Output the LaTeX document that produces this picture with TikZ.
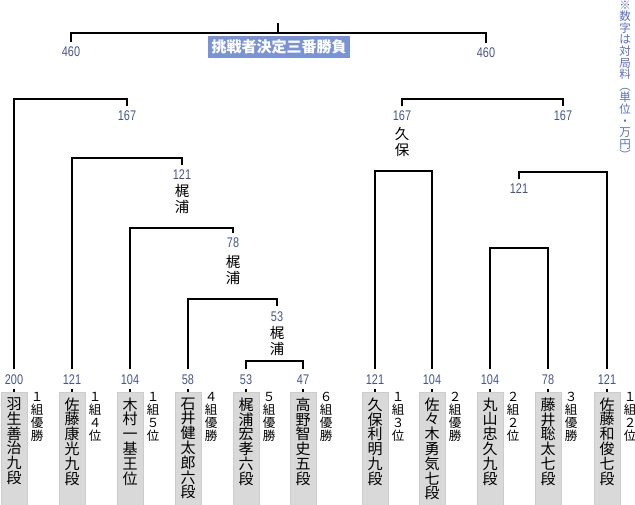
\documentclass[tikz,border=0pt]{standalone}
\usepackage{fontspec}
\setmainfont{Noto Sans CJK JP}
\newfontfamily\numfont{Liberation Sans}[FakeStretch=0.78]
\usetikzlibrary{positioning}
\definecolor{feeblue}{RGB}{70,86,140}
\definecolor{titleblue}{RGB}{122,146,214}
\definecolor{noteblue}{RGB}{88,108,196}

\begin{document}
\begin{tikzpicture}[x=1pt,y=-1pt,line width=1.2pt,
  fee/.style={font=\numfont\fontsize{14}{14}\selectfont, text=feeblue,
              text height=10pt, text depth=0pt, inner xsep=1pt, inner ysep=4pt},
  namebox/.style={draw=black!20, line width=0.6pt, fill=black!15, minimum width=26pt,
                  minimum height=125pt, anchor=north, inner sep=0pt},
  playername/.style={font=\fontsize{15}{14.8}\selectfont, align=center, anchor=north, inner sep=0pt},
  rank/.style={font=\fontsize{12.5}{13}\selectfont, align=center, anchor=north, inner sep=0pt},
  winner/.style={font=\fontsize{14.5}{16.5}\selectfont, align=center, inner sep=0pt}]
\clip (0,0) rectangle (635,505);

% note and title
\node (note) [anchor=north, text=noteblue, font=\fontsize{11.5}{11.6}\selectfont,
  align=center, inner sep=0pt] at (625,0)
  {※\\数\\字\\は\\対\\局\\料\\︵\\単\\位\\・\\万\\円\\︶};
\node (title) [fill=titleblue, text=white, font=\bfseries\fontsize{15}{15}\selectfont,
  minimum width=142pt, minimum height=22pt, inner xsep=3pt] at (279,47) {挑戦者決定三番勝負};

% players
\node (b1) [namebox] at (14,392) {};
\node (b2) [namebox] at (72,392) {};
\node (b3) [namebox] at (130,392) {};
\node (b4) [namebox] at (188,392) {};
\node (b5) [namebox] at (246,392) {};
\node (b6) [namebox] at (303,392) {};
\node (b7) [namebox] at (375,392) {};
\node (b8) [namebox] at (432,392) {};
\node (b9) [namebox] at (490,392) {};
\node (b10) [namebox] at (548,392) {};
\node (b11) [namebox] at (607,392) {};

\node (s1) [playername] at (14,397) {羽\\生\\善\\治\\九\\段};
\node (s2) [playername] at (72,397) {佐\\藤\\康\\光\\九\\段};
\node (s3) [playername] at (130,397) {木\\村\\一\\基\\王\\位};
\node (s4) [playername] at (188,397) {石\\井\\健\\太\\郎\\六\\段};
\node (s5) [playername] at (246,397) {梶\\浦\\宏\\孝\\六\\段};
\node (s6) [playername] at (303,397) {高\\野\\智\\史\\五\\段};
\node (s7) [playername] at (375,397) {久\\保\\利\\明\\九\\段};
\node (s8) [playername] at (432,397) {佐\\々\\木\\勇\\気\\七\\段};
\node (s9) [playername] at (490,397) {丸\\山\\忠\\久\\九\\段};
\node (s10) [playername] at (548,397) {藤\\井\\聡\\太\\七\\段};
\node (s11) [playername] at (607,397) {佐\\藤\\和\\俊\\七\\段};

\node (r1) [rank] at (37,392) {１\\組\\優\\勝};
\node (r2) [rank] at (95,392) {１\\組\\４\\位};
\node (r3) [rank] at (153,392) {１\\組\\５\\位};
\node (r4) [rank] at (211,392) {４\\組\\優\\勝};
\node (r5) [rank] at (269,392) {５\\組\\優\\勝};
\node (r6) [rank] at (326,392) {６\\組\\優\\勝};
\node (r7) [rank] at (398,392) {１\\組\\３\\位};
\node (r8) [rank] at (455,392) {２\\組\\優\\勝};
\node (r9) [rank] at (513,392) {２\\組\\２\\位};
\node (r10) [rank] at (571,392) {３\\組\\優\\勝};
\node (r11) [rank] at (630,392) {１\\組\\２\\位};

\node (f1) [fee] at (14,379) {200};
\node (f2) [fee] at (72,379) {121};
\node (f3) [fee] at (130,379) {104};
\node (f4) [fee] at (188,379) {58};
\node (f5) [fee] at (246,379) {53};
\node (f6) [fee] at (303,379) {47};
\node (f7) [fee] at (375,379) {121};
\node (f8) [fee] at (432,379) {104};
\node (f9) [fee] at (490,379) {104};
\node (f10) [fee] at (548,379) {78};
\node (f11) [fee] at (607,379) {121};

% matches
\node (m53) [fee] at (277,316) {53};
\node (m78) [fee] at (233,243) {78};
\node (m121) [fee] at (182,175) {121};
\node (m167a) [fee] at (127,116) {167};
\node (m167b) [fee] at (402,116) {167};
\node (m167c) [fee] at (563,116) {167};
\node (m121b) [fee] at (519,189) {121};
\node (m460a) [fee] at (71,52) {460};
\node (m460b) [fee] at (486,53) {460};

\node (w53) [winner] at (277,341) {梶\\浦};
\node (w78) [winner] at (233,270) {梶\\浦};
\node (w121) [winner] at (182,199) {梶\\浦};
\node (w167) [winner] at (402,142) {久\\保};

\coordinate (c56) at (275,361);
\coordinate (c53) at (277,299);
\coordinate (c78) at (233,228);
\coordinate (c121) at (182,158);
\coordinate (c167a) at (127,99);
\coordinate (c167b) at (480,99);
\coordinate (c78b) at (403,171);
\coordinate (c910) at (519,248);
\coordinate (c121b) at (519,172);
\coordinate (c460) at (278,33);
\coordinate (top) at (278,23);

% legs into the boxes
\foreach \i in {1,...,11} \draw (f\i) -- (b\i);

\draw (f5) |- (c56) -| (f6);
\draw (f4) |- (c53) -- (m53);
\draw (f3) |- (c78) -- (m78);
\draw (f2) |- (c121) -- (m121);
\draw (f1) |- (c167a) -- (m167a);
\draw (f7) |- (c78b) -| (f8);
\draw (f9) |- (c910) -| (f10);
\draw (f11) |- (c121b) -- (m121b);
\draw (m167b) |- (c167b) -| (m167c);
\draw (m460a) |- (c460) -| (m460b);
\draw (c460) -- (top);
\end{tikzpicture}
\end{document}
